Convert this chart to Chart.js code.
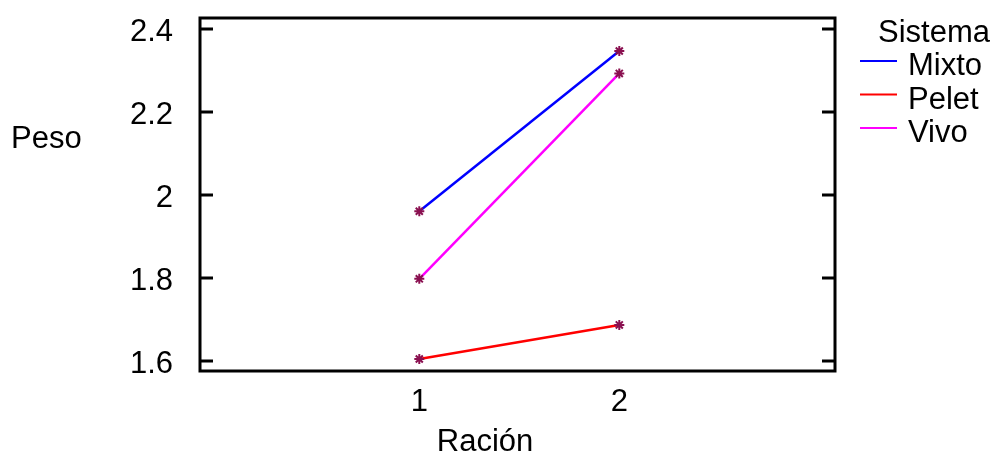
<!DOCTYPE html>
<html>
<head>
<meta charset="utf-8">
<script src="https://cdn.jsdelivr.net/npm/chart.js@4"></script>
<style>
  html, body { margin: 0; padding: 0; background: #fff; }
</style>
</head>
<body>
<canvas id="chart" width="995" height="454"></canvas>
<script>
// data
const racion = [1, 2];
const mixto = [1.961, 2.347];
const pelet = [1.605, 1.687];
const vivo = [1.798, 2.293];
const yTicks = [1.6, 1.8, 2.0, 2.2, 2.4];
const seriesNames = ['Mixto', 'Pelet', 'Vivo'];
const seriesColors = ['#0000ff', '#ff0000', '#ff00ff'];

const FONT = 'Arial, "Liberation Sans", sans-serif';
const markerColor = '#8a1050';

function pts(vals) {
  return racion.map((r, i) => ({ x: r, y: vals[i] }));
}

const seriesVals = [mixto, pelet, vivo];
const datasets = seriesNames.map((name, i) => ({
  label: name,
  data: pts(seriesVals[i]),
  borderColor: seriesColors[i],
  borderWidth: 2.5,
  pointStyle: 'star',
  pointRadius: 5,
  pointBorderColor: markerColor,
  pointBackgroundColor: markerColor,
  pointBorderWidth: 2,
  fill: false,
  tension: 0
}));

// frame, inner ticks, axis titles and legend
const extras = {
  id: 'extras',
  afterDraw(chart) {
    const ctx = chart.ctx;
    const a = chart.chartArea;
    const y = chart.scales.y;
    ctx.save();
    ctx.strokeStyle = '#000';
    ctx.lineWidth = 3;
    ctx.strokeRect(a.left, a.top, a.right - a.left, a.bottom - a.top);
    ctx.beginPath();
    yTicks.forEach(t => {
      const py = Math.round(y.getPixelForValue(t));
      ctx.moveTo(a.left, py); ctx.lineTo(a.left + 13, py);
      ctx.moveTo(a.right, py); ctx.lineTo(a.right - 13, py);
    });
    ctx.stroke();

    ctx.fillStyle = '#000';
    ctx.font = '31px ' + FONT;
    ctx.textBaseline = 'alphabetic';
    ctx.textAlign = 'left';
    ctx.fillText('Peso', 11, 148);
    ctx.textAlign = 'center';
    ctx.fillText('Ración', 485, 451);

    // legend
    ctx.textAlign = 'left';
    ctx.fillText('Sistema', 878, 42);
    seriesNames.forEach((name, i) => {
      const base = 75 + i * 33.5;
      ctx.strokeStyle = seriesColors[i];
      ctx.lineWidth = 2;
      ctx.beginPath();
      ctx.moveTo(860, base - 14);
      ctx.lineTo(897, base - 14);
      ctx.stroke();
      ctx.fillText(name, 908, base);
    });
    ctx.restore();
  }
};

function noPad(s) {
  s.paddingTop = 0; s.paddingBottom = 0;
  s.paddingLeft = 0; s.paddingRight = 0;
}

new Chart(document.getElementById('chart'), {
  type: 'line',
  data: { datasets: datasets },
  options: {
    responsive: false,
    animation: false,
    layout: { padding: { top: 18, right: 160, left: 0, bottom: 0 } },
    plugins: { legend: { display: false }, tooltip: { enabled: false } },
    scales: {
      x: {
        type: 'linear',
        min: -0.0965,
        max: 3.0785,
        afterFit: s => { s.height = 83; noPad(s); },
        afterBuildTicks: s => { s.ticks = racion.map(v => ({ value: v })); },
        grid: { display: false },
        border: { display: false },
        ticks: {
          color: '#000',
          padding: 5,
          font: { family: FONT, size: 31 },
          callback: v => String(v)
        }
      },
      y: {
        type: 'linear',
        min: 1.576,
        max: 2.4265,
        afterFit: s => { s.width = 200; noPad(s); },
        afterBuildTicks: s => { s.ticks = yTicks.map(v => ({ value: v })); },
        grid: { display: false },
        border: { display: false },
        ticks: {
          color: '#000',
          padding: 19,
          labelOffset: 3,
          font: { family: FONT, size: 31 },
          callback: v => String(Math.round(v * 10) / 10)
        }
      }
    }
  },
  plugins: [extras]
});
</script>
</body>
</html>
